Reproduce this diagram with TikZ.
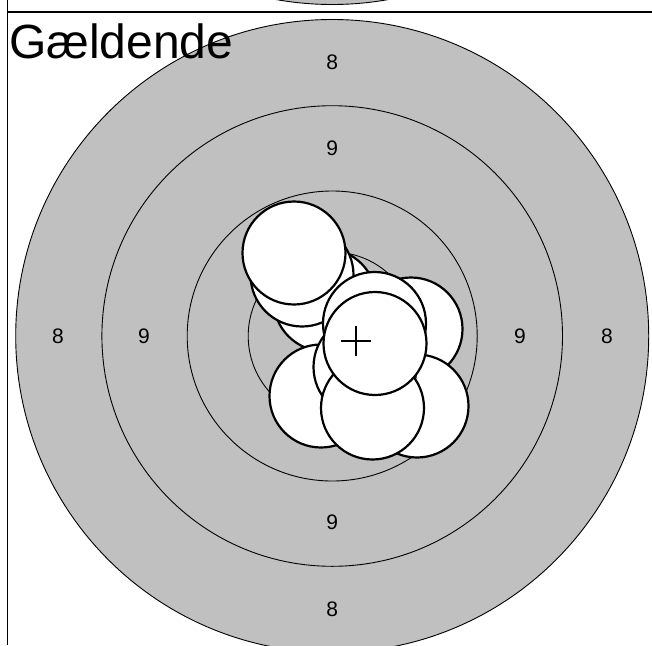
\documentclass[tikz,border=0pt]{standalone}
\usepackage{fontspec}
\setmainfont{Liberation Sans}
\definecolor{targetgray}{HTML}{C0C0C0}

\begin{document}
\begin{tikzpicture}[x=1pt, y=-1pt,
    frameline/.style={line width=1.5pt},
    ring/.style={line width=0.9pt},
    ringlabel/.style={font=\fontsize{21}{21}\selectfont, inner sep=0pt},
    shot/.style={circle, draw, fill=white, line width=2.2pt, minimum size=103pt, inner sep=0pt},
    crossline/.style={line width=1.2pt}
  ]
  \useasboundingbox (0,0) rectangle (652,645);
  \begin{scope}
    \clip (0,0) rectangle (652,645);
    % previous target, cut off at the top
    \draw[ring, fill=targetgray] (332.2,-312) circle (316.5pt);
    % frame
    \draw[frameline] (7.3,0) -- (7.3,645);
    \draw[frameline] (7.3,12) -- (652,12);
    % rings
    \coordinate (centre) at (332.2,336);
    \draw[ring, fill=targetgray] (centre) circle (316.5pt);
    \draw[ring] (centre) circle (230.3pt);
    \draw[ring] (centre) circle (145pt);
    \draw[ring] (centre) circle (84pt);
    % title
    \node[anchor=base west, inner sep=0pt, font=\fontsize{48}{48}\selectfont] (title) at (9,58) {Gældende};
    % ring numbers
    \node[ringlabel] (top8) at (332.2,62) {8};
    \node[ringlabel] (top9) at (332.2,148) {9};
    \node[ringlabel] (left8) at (58,336) {8};
    \node[ringlabel] (left9) at (144,336) {9};
    \node[ringlabel] (right9) at (520,336) {9};
    \node[ringlabel] (right8) at (607,336) {8};
    \node[ringlabel] (bottom9) at (332.2,522) {9};
    \node[ringlabel] (bottom8) at (332.2,609) {8};
    % shots, back to front
    \foreach \i/\x/\y in {1/325/300, 2/302/275, 3/294/253, 4/411/329, 5/374.5/323.5,
                          6/321/396, 7/417/406, 8/365/367, 9/372.5/408, 10/375/343.5}
      \node[shot] (shot\i) at (\x,\y) {};
    % mean point of impact
    \coordinate (mpi) at (356,341);
    \draw[crossline] ([xshift=-15pt]mpi) -- ([xshift=15pt]mpi);
    \draw[crossline] ([yshift=-15pt]mpi) -- ([yshift=15pt]mpi);
  \end{scope}
\end{tikzpicture}
\end{document}
